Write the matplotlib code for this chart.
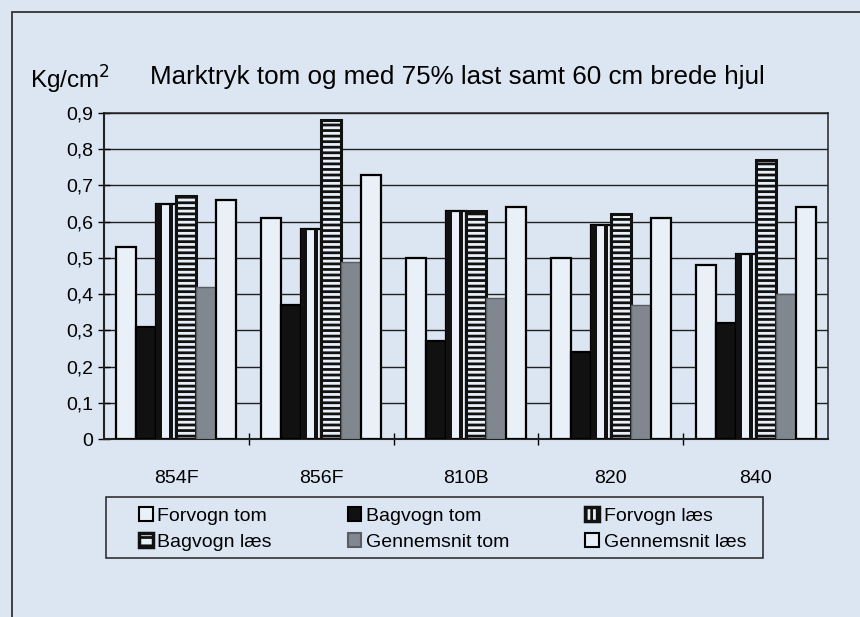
import numpy as np
import matplotlib
matplotlib.use("Agg")
import matplotlib.pyplot as plt
from matplotlib.patches import Patch, Rectangle

plt.rcParams['font.family'] = ['Liberation Sans', 'DejaVu Sans']
plt.rcParams['hatch.linewidth'] = 2.0

# data
traktorer = ["854F", "856F", "810B", "820", "840"]
forvogn_tom = [0.53, 0.61, 0.50, 0.50, 0.48]
bagvogn_tom = [0.31, 0.37, 0.27, 0.24, 0.32]
forvogn_laes = [0.65, 0.58, 0.63, 0.59, 0.51]
bagvogn_laes = [0.67, 0.88, 0.63, 0.62, 0.77]
gennemsnit_tom = [0.42, 0.49, 0.39, 0.37, 0.40]
gennemsnit_laes = [0.66, 0.73, 0.64, 0.61, 0.64]
y_ticks = [0, 0.1, 0.2, 0.3, 0.4, 0.5, 0.6, 0.7, 0.8, 0.9]
y_labels = ["0", "0,1", "0,2", "0,3", "0,4", "0,5", "0,6", "0,7", "0,8", "0,9"]

bg = '#dbe6f2'
hvid = '#e9f0f8'
graa = '#81878f'

fig = plt.figure(figsize=(8.6, 6.17), dpi=100, facecolor=bg)
ax = fig.add_axes([104/860, 1-439/617, (828-104)/860, (439-113)/617])
ax.set_facecolor(bg)

x = np.arange(len(traktorer))
w = 0.138

def pos(j):
  return x + (j - 2.5) * w

ax.bar(pos(0), forvogn_tom, w, color=hvid, edgecolor='black', lw=1.6, zorder=3)
ax.bar(pos(1), bagvogn_tom, w, color='#111111', edgecolor='black', lw=1.6, zorder=3)
# forvogn laes: white bar with black left part and a black middle stripe
ax.bar(pos(2), forvogn_laes, w, color=hvid, edgecolor='black', lw=1.6, zorder=3)
ax.bar(pos(2) - w*0.35, forvogn_laes, w*0.3, color='#111111', lw=0, zorder=4)
ax.bar(pos(2) + w*0.25, forvogn_laes, w*0.2, color='#111111', lw=0, zorder=4)
ax.bar(pos(3), bagvogn_laes, w, color=hvid, edgecolor='#111111', hatch='---', lw=2.2, zorder=3)
ax.bar(pos(4), gennemsnit_tom, w, color=graa, edgecolor='#5a5e64', lw=1.0, zorder=3)
ax.bar(pos(5), gennemsnit_laes, w, color=hvid, edgecolor='black', lw=1.6, zorder=3)

ax.set_ylim(0, 0.9)
ax.set_xlim(-0.5, len(traktorer) - 0.5)
ax.set_yticks(y_ticks)
ax.set_yticklabels(y_labels, fontsize=14)
ax.set_xticks(x)
ax.set_xticklabels(traktorer, fontsize=14)
ax.set_xticks(x[:-1] + 0.5, minor=True)
ax.tick_params(axis='x', which='major', length=0, pad=22)
ax.tick_params(axis='x', which='minor', length=8, direction='inout', width=1)
ax.tick_params(axis='y', length=8, direction='inout', width=1, pad=4)
ax.yaxis.grid(True, color='#222222', lw=1.0)
ax.set_axisbelow(True)
for s in ax.spines.values():
  s.set_color('#222222')
  s.set_linewidth(1.1)
ax.spines['left'].set_linewidth(1.5)
ax.spines['bottom'].set_linewidth(1.5)

fig.text(30/860, 1-80/617, "Kg/cm$^2$", fontsize=17.5, va='center', ha='left')
fig.text(150/860, 1-77/617, "Marktryk tom og med 75% last samt 60 cm brede hjul",
         fontsize=18.7, va='center', ha='left')

handles = [
  Patch(facecolor=hvid, edgecolor='black', lw=1.5),
  Patch(facecolor='#111111', edgecolor='black', lw=1.5),
  Patch(facecolor=hvid, edgecolor='#111111', hatch='|||', lw=2.5),
  Patch(facecolor=hvid, edgecolor='#111111', hatch='--', lw=2.5),
  Patch(facecolor=graa, edgecolor='#5a5e64', lw=1.5),
  Patch(facecolor=hvid, edgecolor='black', lw=1.5),
]
labels = ["Forvogn tom", "Bagvogn tom", "Forvogn læs",
          "Bagvogn læs", "Gennemsnit tom", "Gennemsnit læs"]
order = [0, 3, 1, 4, 2, 5]
leg = fig.legend([handles[i] for i in order], [labels[i] for i in order],
                 loc='center left', ncol=3,
                 bbox_to_anchor=(139/860, 1-529/617),
                 fontsize=14, frameon=False, borderaxespad=0, borderpad=0,
                 handlelength=0.7, handleheight=0.7, handletextpad=0.25,
                 labelspacing=0.42, columnspacing=3.9)

# legend frame
fig.patches.append(Rectangle((106/860, 1-558/617), (763-106)/860, 61/617,
                             transform=fig.transFigure, fill=False,
                             edgecolor='#222222', lw=1.1))
# outer chart frame
fig.patches.append(Rectangle((12/860, -0.1), 1.0, 1.1 - 12/617, transform=fig.transFigure,
                             fill=False, edgecolor='#333333', lw=1.3))

fig.savefig("out.png", dpi=100, facecolor=bg)
